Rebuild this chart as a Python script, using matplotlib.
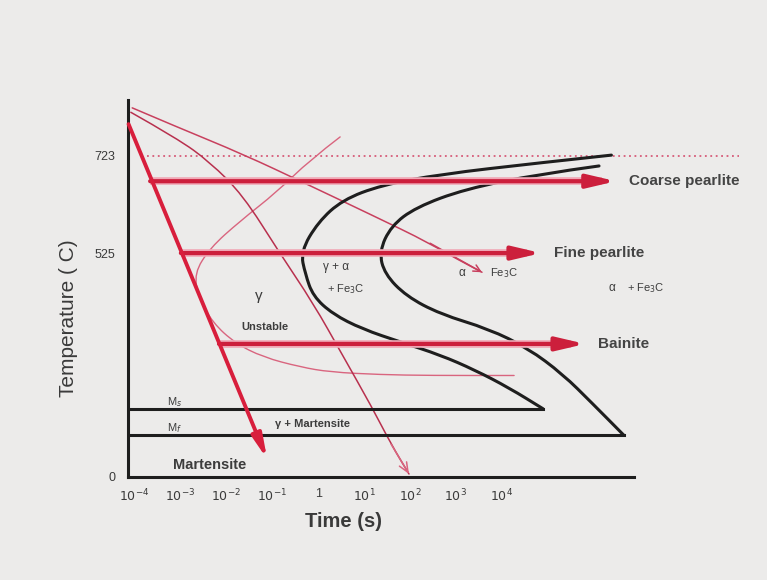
import numpy as np
import matplotlib.pyplot as plt
from matplotlib.path import Path
from matplotlib.patches import PathPatch

# schematic TTT diagram: x = log10(time / s), y = temperature (C)
xtick_pos = [-4, -3, -2, -1, 0, 1, 2, 3, 4]
xtick_labels = ['$10^{-4}$', '$10^{-3}$', '$10^{-2}$', '$10^{-1}$', '1',
                '$10^{1}$', '$10^{2}$', '$10^{3}$', '$10^{4}$']
ytick_pos = [0, 525, 723]
ytick_labels = ['0', '525', '723']

# transformation start (outer) and finish (inner) C-curves
start_t = [6.39, 4.79, 2.66, 1.38, 0.53, 0.00, -0.38, -0.28, -0.11, 0.32, 0.96, 1.81, 2.66, 3.41, 4.16, 4.90]
start_T = [724, 708, 685, 663, 633, 588, 528, 476, 424, 382, 347, 316, 286, 251, 209, 160]
finish_t = [6.12, 4.79, 3.20, 2.13, 1.59, 1.33, 1.45, 1.92, 2.66, 3.72, 4.57, 5.33, 5.97, 6.66]
finish_T = [702, 685, 655, 618, 580, 528, 476, 424, 382, 347, 302, 241, 173, 98]

# martensite start / finish lines
ms_T, mf_T = 160, 98
ms_end, mf_end = 4.90, 6.66
eutectoid_T = 723

# fast quench (thick red arrow)
quench_t = [-4.13, -1.11]
quench_T = [787, 42]

# isothermal holds (thick red arrows)
hold_T = [671, 525, 312]
hold_start = [-3.66, -2.99, -2.16]
hold_end = [6.49, 4.86, 5.82]
hold_names = ['Coarse pearlite', 'Fine pearlite', 'Bainite']

# thin cooling curves
curveA_t = [-4.05, -3.07, -1.64, -0.29, 1.13, 2.44, 3.57]
curveA_T = [820, 781, 726, 667, 604, 545, 480]
curveB_t = [-4.08, -3.07, -2.36, -1.64, -0.85, -0.11, 0.53, 1.17, 1.59, 1.98]
curveB_T = [811, 758, 710, 643, 527, 408, 286, 164, 77, 7]
curveC_t = [0.48, -0.18, -0.90, -1.70, -2.36, -2.70, -2.60, -2.29, -1.81, -1.20, -0.39, 0.26, 1.35, 2.44, 4.27]
curveC_T = [761, 714, 649, 590, 535, 478, 420, 361, 314, 281, 258, 246, 240, 238, 238]

bg = '#ecebea'
red = '#cc1f3c'
ink = '#3a3a3a'
plt.rcParams['font.family'] = ['Liberation Sans', 'DejaVu Sans']


def smooth_line(ax, t, T, **kw):
    # quadratic bezier through the midpoints, read points act as control points
    pts = np.column_stack([t, T]).astype(float)
    verts = [pts[0]]
    codes = [Path.MOVETO]
    for i in range(1, len(pts) - 1):
        verts += [pts[i], (pts[i] + pts[i + 1]) / 2]
        codes += [Path.CURVE3, Path.CURVE3]
    verts.append(pts[-1])
    codes.append(Path.LINETO)
    ax.add_patch(PathPatch(Path(verts, codes), fill=False, capstyle='round',
                           joinstyle='round', **kw))


fig = plt.figure(figsize=(7.67, 5.80), dpi=100, facecolor=bg)
ax = fig.add_axes([0.1669, 0.1776, 0.8044, 0.65])
ax.set_facecolor(bg)

# the drawing is not to scale in temperature
Tk = np.array([-1000, 0, 525, 723, 2000])
Hk = np.array([-426.7, 0, 224, 321.5, 950.3])
ax.set_yscale('function', functions=(lambda T: np.interp(T, Tk, Hk),
                                     lambda h: np.interp(h, Hk, Tk)))
ax.set_xlim(-4.1416, 9.30)
ax.set_ylim(0, 836)

for s in ['top', 'right']:
    ax.spines[s].set_visible(False)
for s in ['left', 'bottom']:
    ax.spines[s].set_linewidth(2.2)
    ax.spines[s].set_color('#1e1e1e')
ax.spines['bottom'].set_bounds(-4.1416, 6.88)

ax.set_xticks(xtick_pos)
ax.set_xticklabels(xtick_labels, fontsize=9, color=ink)
ax.set_yticks(ytick_pos)
ax.set_yticklabels(ytick_labels, fontsize=9, color=ink)
ax.tick_params(length=0)
ax.tick_params(axis='x', pad=8)
ax.tick_params(axis='y', pad=9)
ax.minorticks_off()

ax.set_xlabel('Time (s)', fontsize=14.5, fontweight='bold', color=ink, va='center')
ax.xaxis.set_label_coords(0.350, -0.119)
ax.set_ylabel('Temperature ( C)', fontsize=15, color=ink, va='center')
ax.yaxis.set_label_coords(-0.097, 0.422)

# 723 line
ax.plot([-3.73, 9.17], [eutectoid_T, eutectoid_T], color='#d65a78', lw=1.3,
        ls=(0, (1, 2)), zorder=2)

# Ms / Mf
ax.plot([-4.1416, ms_end], [ms_T, ms_T], color='#1e1e1e', lw=2.2, zorder=3)
ax.plot([-4.1416, mf_end], [mf_T, mf_T], color='#1e1e1e', lw=2.2, zorder=3)

# C curves
smooth_line(ax, start_t, start_T, color='#1e1e1e', lw=2.2, zorder=3)
smooth_line(ax, finish_t, finish_T, color='#1e1e1e', lw=2.2, zorder=3)

# thin cooling curves
smooth_line(ax, curveC_t, curveC_T, color='#d9657f', lw=1.0, zorder=2)
smooth_line(ax, curveA_t, curveA_T, color='#c8405e', lw=1.1, zorder=2)
ax.annotate('', xy=(curveA_t[-1], curveA_T[-1]), xytext=(curveA_t[-2], curveA_T[-2]),
            arrowprops=dict(arrowstyle='->,head_length=5,head_width=2.5', mutation_scale=1,
                            color='#c8405e', lw=1.1, shrinkA=0, shrinkB=0))
smooth_line(ax, curveB_t, curveB_T, color='#b8304e', lw=1.1, zorder=2)
ax.annotate('', xy=(curveB_t[-1], curveB_T[-1]), xytext=(curveB_t[-2], curveB_T[-2]),
            arrowprops=dict(arrowstyle='->,head_length=7,head_width=3', mutation_scale=1,
                            color='#d9657f', lw=1.1, shrinkA=0, shrinkB=0))

# isothermal hold arrows
for T, t0, t1, name in zip(hold_T, hold_start, hold_end, hold_names):
    ax.plot([t0, t1 - 0.3], [T, T], color='#f0a8b6', lw=5.5, solid_capstyle='butt', zorder=4)
    ax.annotate('', xy=(t1, T), xytext=(t0, T),
                arrowprops=dict(arrowstyle='-|>,head_length=17,head_width=4', mutation_scale=1,
                                color=red, lw=3.0, shrinkA=0, shrinkB=0), zorder=5)
    ax.text(t1 + 0.28, T, name, fontsize=11, fontweight='bold', color='#444444',
            ha='left', va='center')

# quench arrow
ax.annotate('', xy=(quench_t[1], quench_T[1]), xytext=(quench_t[0], quench_T[0]),
            arrowprops=dict(arrowstyle='-|>,head_length=14,head_width=3', mutation_scale=1,
                            color='#d81e3c', lw=2.8, shrinkA=0, shrinkB=0), zorder=6)

# region labels
lab = dict(color='#3c3c3c', ha='center', va='center')
ax.text(-2.36, 28, 'Martensite', fontsize=10.5, fontweight='bold', **lab)
ax.text(-0.13, 124, 'γ + Martensite', fontsize=8, fontweight='bold', **lab)
ax.text(-3.29, 176, 'M$_s$', fontsize=8, color='#3c3c3c', ha='left', va='center')
ax.text(-3.29, 115, 'M$_f$', fontsize=8, color='#3c3c3c', ha='left', va='center')
ax.text(-1.29, 424, 'γ', fontsize=11, **lab)
ax.text(-1.16, 352, 'Unstable', fontsize=8, fontweight='bold', **lab)
ax.text(0.39, 492, 'γ + α', fontsize=8.5, **lab)
ax.text(0.61, 441, '+ Fe$_3$C', fontsize=8, **lab)
ax.text(3.14, 478, 'α', fontsize=8.5, **lab)
ax.text(3.75, 478, 'Fe$_3$C', fontsize=8, color='#3c3c3c', ha='left', va='center')
ax.text(6.40, 443, 'α', fontsize=8.5, **lab)
ax.text(6.73, 443, '+ Fe$_3$C', fontsize=8, color='#3c3c3c', ha='left', va='center')

fig.savefig('out.png', dpi=100, facecolor=bg)
